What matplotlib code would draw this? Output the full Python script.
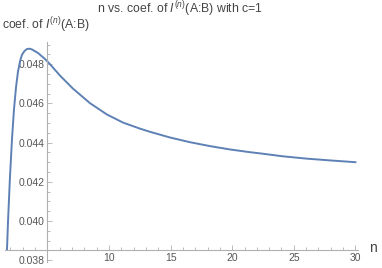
import matplotlib
matplotlib.use('Agg')
import matplotlib.pyplot as plt
import numpy as np
from matplotlib.ticker import FixedLocator

plt.rcParams['font.family'] = ['Liberation Sans', 'DejaVu Sans']
plt.rcParams['mathtext.fontset'] = 'custom'
plt.rcParams['mathtext.rm'] = 'Liberation Sans'
plt.rcParams['mathtext.it'] = 'Liberation Sans:italic'

# values
n_vals = [1.72, 1.80, 1.96, 2.13, 2.29, 2.45, 2.61, 2.78, 2.94, 3.14, 3.34,
          3.55, 3.75, 4.24, 4.81, 5.21, 6.02, 7.08, 8.46, 9.84, 11.14, 12.52,
          13.33, 14.95, 16.57, 18.20, 19.82, 21.44, 22.26, 24.12, 26.07,
          28.18, 30.0]
coef = [0.03852, 0.03990, 0.04220, 0.04420, 0.04570, 0.04680, 0.04760,
        0.04815, 0.04848, 0.04867, 0.04877, 0.04879, 0.04875, 0.04857,
        0.04826, 0.04800, 0.04742, 0.04675, 0.04601, 0.04543, 0.04502,
        0.04471, 0.04455, 0.04426, 0.04402, 0.04382, 0.04365, 0.04351,
        0.04345, 0.04330, 0.04318, 0.04308, 0.04300]

y_major = [0.038, 0.040, 0.042, 0.044, 0.046, 0.048]
x_major = [5, 10, 15, 20, 25, 30]
x_labels = ['', '10', '15', '20', '25', '30']

line_col = '#5E81B5'
axis_col = '#b0b0b0'
text_col = '#555555'

fig = plt.figure(figsize=(3.82, 2.68), dpi=100)
ax = fig.add_axes([5/382, 6/268, 353/382, 220/268])

ax.plot(n_vals, coef, color=line_col, lw=1.4, solid_joinstyle='round')

ax.set_xlim(1.56, 30.21)
ax.set_ylim(0.03791, 0.04913)

ax.spines['top'].set_visible(False)
ax.spines['right'].set_visible(False)
ax.spines['left'].set_position(('data', 5))
ax.spines['bottom'].set_position(('data', 0.03852))
for s in ['left', 'bottom']:
    ax.spines[s].set_color(axis_col)
    ax.spines[s].set_linewidth(0.8)

ax.set_yticks(y_major)
ax.set_yticklabels([f'{v:.3f}' for v in y_major])
ax.yaxis.set_minor_locator(FixedLocator(np.arange(0.038, 0.04901, 0.0005)))
ax.set_xticks(x_major)
ax.set_xticklabels(x_labels)
ax.xaxis.set_minor_locator(FixedLocator(np.arange(2, 31, 1)))

ax.tick_params(which='both', direction='in', color=axis_col, labelcolor=text_col,
               labelsize=7.5, width=0.6)
ax.tick_params(which='major', length=3.5, pad=2)
ax.tick_params(which='minor', length=2)

fig.text(180/382, 1 - 9/268, r'n vs. coef. of $I^{(n)}$(A:B) with c=1',
         ha='center', va='center', fontsize=8.8, color='#444444')
fig.text(2/382, 1 - 25/268, r'coef. of $I^{(n)}$(A:B)',
         ha='left', va='center', fontsize=8.8, color='#444444')
fig.text(373/382, 1 - 248/268, 'n', ha='center', va='center',
         fontsize=10, color='#444444')

fig.savefig('out.png', dpi=100)
